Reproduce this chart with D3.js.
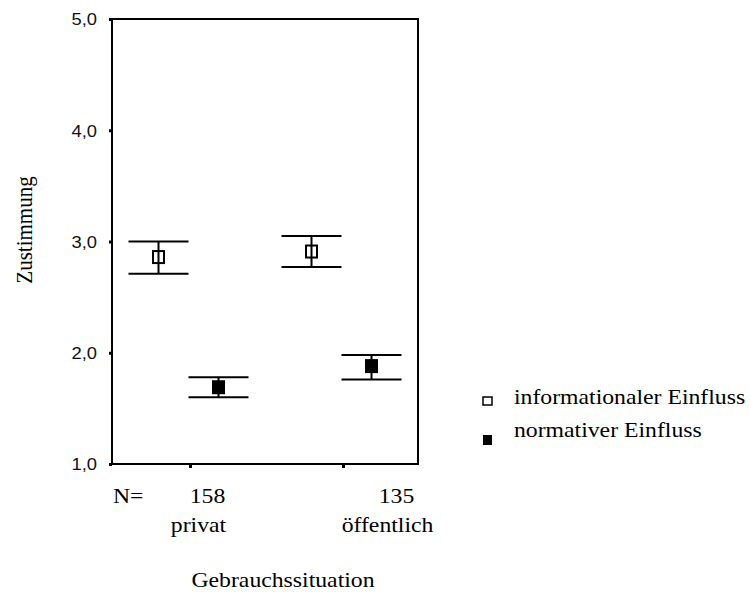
<!DOCTYPE html>
<html>
<head>
<meta charset="utf-8">
<script src="https://cdn.jsdelivr.net/npm/d3@7"></script>
<style>
  body { margin: 0; background: #fff; }
  .serif { font-family: "Liberation Serif", "Times New Roman", serif; font-size: 21px; fill: #000; }
  .sans { font-family: "Liberation Sans", Arial, sans-serif; font-size: 16px; fill: #111; }
</style>
</head>
<body>
<script>
// values
var categories = ["privat", "öffentlich"];
var counts = [158, 135];
var seriesNames = ["informationaler Einfluss", "normativer Einfluss"];
var infoMean = [2.86, 2.91];
var infoLow = [2.71, 2.77];
var infoHigh = [3.00, 3.05];
var normMean = [1.69, 1.88];
var normLow = [1.60, 1.76];
var normHigh = [1.78, 1.98];
var yTicks = [1, 2, 3, 4, 5];

var sx = 1.13; // the reference text is a bit wider than tall

var svg = d3.select("body")
            .append("svg")
              .attr("width", 750)
              .attr("height", 592);

var plot = {left: 112, right: 418, top: 19, bottom: 464};

var x = d3.scalePoint()
          .domain(categories)
          .range([plot.left, plot.right])
          .padding(0.5);

var y = d3.scaleLinear()
          .domain([1, 5])
          .range([plot.bottom, plot.top]);

var fmt = d3.formatLocale({decimal: ",", thousands: ".", grouping: [3], currency: ["", ""]}).format(".1f");

// frame
svg.append("rect")
   .attr("x", plot.left)
   .attr("y", plot.top)
   .attr("width", plot.right - plot.left)
   .attr("height", plot.bottom - plot.top)
   .attr("fill", "none")
   .attr("stroke", "#000")
   .attr("stroke-width", 2);

// y axis
var yAxis = svg.append("g")
   .attr("transform", "translate(" + plot.left + ",0)")
   .call(d3.axisLeft(y).tickValues(yTicks).tickSize(3).tickFormat(fmt));
yAxis.attr("font-size", null).attr("font-family", null);
yAxis.select(".domain").remove();
yAxis.selectAll(".tick line").attr("stroke-width", 3).attr("stroke", "#000");
yAxis.selectAll(".tick text")
     .attr("class", "sans")
     .attr("x", -15 / 1.15)
     .attr("dy", "0.36em")
     .attr("transform", "scale(1.15,1)");

// x ticks
svg.selectAll(".xtick")
   .data(categories)
   .enter()
   .append("line")
   .attr("class", "xtick")
   .attr("x1", function(d) { return x(d) + 2; })
   .attr("x2", function(d) { return x(d) + 2; })
   .attr("y1", plot.bottom)
   .attr("y2", plot.bottom + 4)
   .attr("stroke", "#000")
   .attr("stroke-width", 3);

function stretchedText(cls, tx, ty, anchor, txt) {
  return svg.append("text")
     .attr("class", cls)
     .attr("transform", "translate(" + tx + "," + ty + ") scale(" + sx + ",1)")
     .attr("text-anchor", anchor)
     .text(txt);
}

// N= row and category names
stretchedText("serif", plot.left + 1, 503, "start", "N=");
var nShift = [19, 55], catShift = [10, 46];
categories.forEach(function(c, i) {
  stretchedText("serif", x(c) + nShift[i], 503, "middle", counts[i]);
  stretchedText("serif", x(c) + catShift[i], 532, "middle", c);
});

// axis titles
stretchedText("serif", 283, 587, "middle", "Gebrauchssituation");
svg.append("text")
   .attr("class", "serif")
   .attr("font-size", 19)
   .attr("transform", "translate(32,230) scale(" + sx + ",1) rotate(-90)")
   .attr("text-anchor", "middle")
   .text("Zustimmung");

// error bars + markers
var series = [
  {name: seriesNames[0], mean: infoMean, lo: infoLow, hi: infoHigh, dx: -30, fill: "none"},
  {name: seriesNames[1], mean: normMean, lo: normLow, hi: normHigh, dx: 30, fill: "#000"}
];

var capHalf = 30;

series.forEach(function(s) {
  var g = svg.append("g");
  var pts = categories.map(function(c, i) {
    return {cx: x(c) + s.dx, m: s.mean[i], lo: s.lo[i], hi: s.hi[i]};
  });

  g.selectAll(".stem").data(pts).enter().append("line")
   .attr("x1", function(d) { return d.cx; })
   .attr("x2", function(d) { return d.cx; })
   .attr("y1", function(d) { return y(d.lo); })
   .attr("y2", function(d) { return y(d.hi); })
   .attr("stroke", "#000").attr("stroke-width", 2);

  g.selectAll(".capHi").data(pts).enter().append("line")
   .attr("x1", function(d) { return d.cx - capHalf; })
   .attr("x2", function(d) { return d.cx + capHalf; })
   .attr("y1", function(d) { return y(d.hi); })
   .attr("y2", function(d) { return y(d.hi); })
   .attr("stroke", "#000").attr("stroke-width", 2);

  g.selectAll(".capLo").data(pts).enter().append("line")
   .attr("x1", function(d) { return d.cx - capHalf; })
   .attr("x2", function(d) { return d.cx + capHalf; })
   .attr("y1", function(d) { return y(d.lo); })
   .attr("y2", function(d) { return y(d.lo); })
   .attr("stroke", "#000").attr("stroke-width", 2);

  g.selectAll(".mark").data(pts).enter().append("rect")
   .attr("x", function(d) { return d.cx - 5.5; })
   .attr("y", function(d) { return y(d.m) - 6; })
   .attr("width", 11)
   .attr("height", 12)
   .attr("fill", s.fill)
   .attr("stroke", "#000")
   .attr("stroke-width", 2);
});

// legend
var legendY = [404, 437];
var boxY = [397, 435];
series.forEach(function(s, i) {
  svg.append("rect")
     .attr("x", 483)
     .attr("y", boxY[i])
     .attr("width", 9)
     .attr("height", i === 0 ? 8 : 10)
     .attr("fill", i === 0 ? "#fff" : "#000")
     .attr("stroke", "#000")
     .attr("stroke-width", i === 0 ? 1.5 : 0);
  stretchedText("serif", 514, legendY[i], "start", s.name);
});
</script>
</body>
</html>
